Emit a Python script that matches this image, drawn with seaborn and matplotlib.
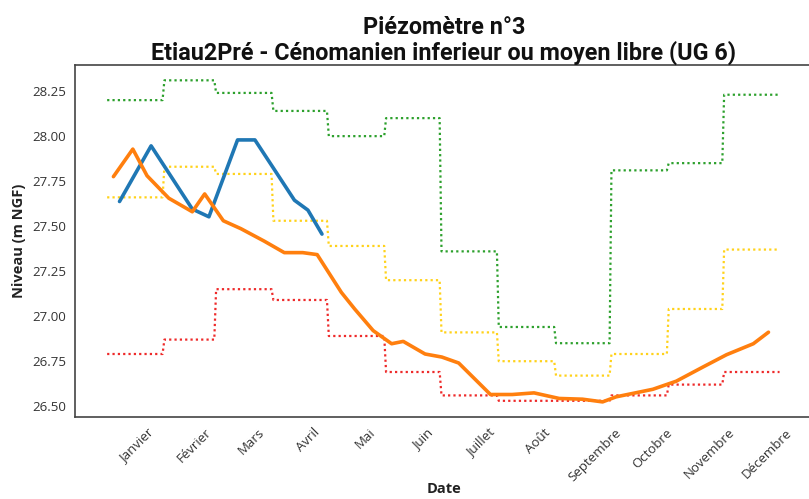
import numpy as np
import pandas as pd
import matplotlib
matplotlib.use('Agg')
import matplotlib.pyplot as plt
import seaborn as sns

# Month labels (x axis)
mois = ['Janvier', 'Février', 'Mars', 'Avril', 'Mai', 'Juin', 'Juillet',
        'Août', 'Septembre', 'Octobre', 'Novembre', 'Décembre']

# Monthly thresholds (m NGF)
seuil_haut = [28.20, 28.31, 28.24, 28.14, 28.00, 28.10, 27.36, 26.94, 26.85, 27.81, 27.85, 28.23]
seuil_moyen = [27.66, 27.83, 27.79, 27.53, 27.39, 27.20, 26.91, 26.75, 26.67, 26.79, 27.04, 27.37]
seuil_bas = [26.79, 26.87, 27.15, 27.09, 26.89, 26.69, 26.56, 26.53, 26.53, 26.56, 26.62, 26.69]

# Measured levels, current year (day of year, level)
jours_actuel = [6.7, 23.8, 46.1, 55.1, 70.6, 80.0, 101.4, 108.7, 116.3]
niveau_actuel = [27.637, 27.946, 27.595, 27.552, 27.979, 27.979, 27.644, 27.589, 27.456]

# Previous year
jours_prec = [3.4, 13.9, 21.6, 33.4, 46.1, 52.8, 62.9, 72.4, 85.0, 95.9, 105.9, 113.7,
              126.8, 134.0, 144.0, 154.0, 160.3, 172.1, 181.2, 190.3, 207.5, 219.3,
              231.1, 244.7, 257.3, 268.2, 275.5, 295.4, 308.1, 322.6, 335.3, 349.8, 358.0]
niveau_prec = [27.775, 27.928, 27.78, 27.655, 27.58, 27.679, 27.53, 27.486, 27.417, 27.353,
               27.353, 27.342, 27.132, 27.04, 26.92, 26.847, 26.86, 26.79, 26.773, 26.74,
               26.565, 26.565, 26.574, 26.543, 26.539, 26.524, 26.552, 26.594, 26.639,
               26.718, 26.786, 26.847, 26.911]

# daily table for the monthly thresholds
dates = pd.date_range('2023-01-01', '2023-12-31', freq='D')
seuils = pd.DataFrame({'jour': dates.dayofyear - 1, 'mois': dates.month - 1})
seuils['haut'] = np.array(seuil_haut)[seuils['mois']]
seuils['moyen'] = np.array(seuil_moyen)[seuils['mois']]
seuils['bas'] = np.array(seuil_bas)[seuils['mois']]

sns.set_style('white')
plt.rcParams['font.family'] = ['Open Sans', 'DejaVu Sans']

fig = plt.figure(figsize=(8.09, 4.99), dpi=100)
ax = fig.add_axes([0.0927, 0.1643, 0.912, 0.7054])

dots = (0, (1, 1.4))
sns.lineplot(data=seuils, x='jour', y='haut', color='#2ca02c', lw=1.6, linestyle=dots, ax=ax)
sns.lineplot(data=seuils, x='jour', y='moyen', color='#ffd21a', lw=1.6, linestyle=dots, ax=ax)
sns.lineplot(data=seuils, x='jour', y='bas', color='#ee2a2a', lw=1.6, linestyle=dots, ax=ax)
sns.lineplot(x=jours_actuel, y=niveau_actuel, color='#1f77b4', lw=2.6, ax=ax)
sns.lineplot(x=jours_prec, y=niveau_prec, color='#ff7f0e', lw=2.6, ax=ax)

ax.set_xlim(-17.4, 382)
ax.set_ylim(26.44, 28.395)
ax.set_yticks([26.50, 26.75, 27.00, 27.25, 27.50, 27.75, 28.00, 28.25])
ax.set_yticklabels([f'{v:.2f}' for v in ax.get_yticks()])
ax.set_xticks(np.arange(12) * 31 + 16)
ax.set_xticklabels(mois, rotation=45)

ax.tick_params(axis='both', direction='out', length=3.5, width=0.8, color='#777777',
               labelsize=9.5, labelcolor='#333333', pad=3)
for s in ax.spines.values():
    s.set_color('#444444')
    s.set_linewidth(1.2)

ax.set_xlabel('Date', fontsize=10.5, fontweight='bold', color='#222222')
ax.xaxis.set_label_coords(0.5, -0.185)
ax.set_ylabel('Niveau (m NGF)', fontsize=10.5, fontweight='bold', color='#222222')
ax.set_title('Piézomètre n°3\nEtiau2Pré - Cénomanien inferieur ou moyen libre (UG 6)',
             fontsize=16.8, fontweight='bold', family=['Roboto', 'DejaVu Sans'],
             color='#111111', pad=4, linespacing=1.05)

fig.savefig('out.png', dpi=100)
